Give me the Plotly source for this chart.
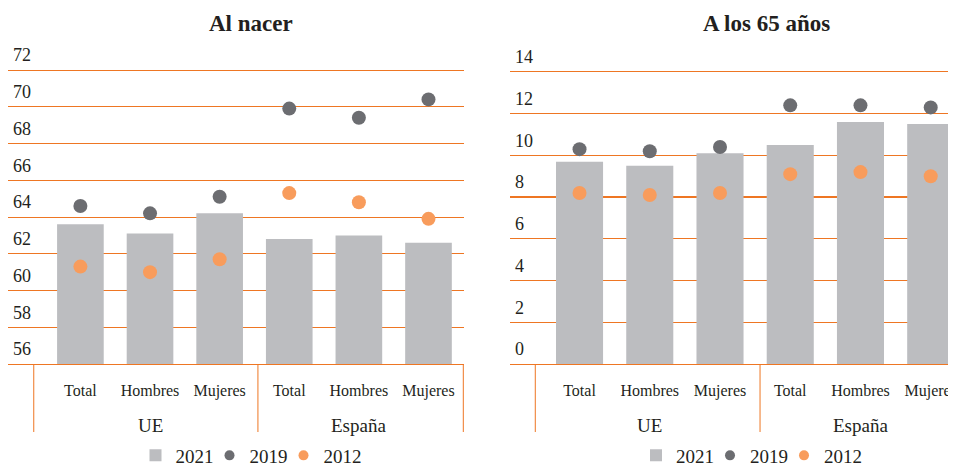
import plotly.graph_objects as go

# ---- data ----
groups = ["UE", "España"]
subcats = ["Total", "Hombres", "Mujeres", "Total", "Hombres", "Mujeres"]
positions = [0, 1, 2, 3, 4, 5]

nacer_2021 = [63.6, 63.1, 64.2, 62.8, 63.0, 62.6]
nacer_2019 = [64.6, 64.2, 65.1, 69.9, 69.4, 70.4]
nacer_2012 = [61.3, 61.0, 61.7, 65.3, 64.8, 63.9]

a65_2021 = [9.7, 9.5, 10.1, 10.5, 11.6, 11.5]
a65_2019 = [10.3, 10.2, 10.4, 12.4, 12.4, 12.3]
a65_2012 = [8.2, 8.1, 8.2, 9.1, 9.2, 9.0]

nacer_ticks = [56, 58, 60, 62, 64, 66, 68, 70, 72]
a65_ticks = [0, 2, 4, 6, 8, 10, 12, 14]
years = ["2021", "2019", "2012"]

# ---- style ----
FONT = "Liberation Serif"
TXT = "#231F20"
BAR = "#BCBDC0"
DARK = "#6C6D71"
ORANGE = "#F89C5C"
LINE = "#EE7623"

W, H = 948, 455          # page body adds an 8 px offset
T, B = 37, 99
PH = H - T - B           # plot-area height in px

def py(fig_y):
    """pixel row in the figure -> paper y"""
    return (H - B - fig_y) / PH

fig = go.Figure()

def add_panel(xa, ya, leg, v21, v19, v12):
    fig.add_trace(go.Bar(x=positions, y=v21, width=0.67, marker=dict(color=BAR, line=dict(width=0)),
                         name=years[0], xaxis=xa, yaxis=ya, legend=leg, hoverinfo="y"))
    fig.add_trace(go.Scatter(x=positions, y=v19, mode="markers", marker=dict(color=DARK, size=14),
                             name=years[1], xaxis=xa, yaxis=ya, showlegend=False, hoverinfo="y"))
    fig.add_trace(go.Scatter(x=positions, y=v12, mode="markers", marker=dict(color=ORANGE, size=14),
                             name=years[2], xaxis=xa, yaxis=ya, showlegend=False, hoverinfo="y"))
    # legend-only entries with the smaller legend dot
    fig.add_trace(go.Scatter(x=[None], y=[None], mode="markers", marker=dict(color=DARK, size=10),
                             name=years[1], xaxis=xa, yaxis=ya, legend=leg))
    fig.add_trace(go.Scatter(x=[None], y=[None], mode="markers", marker=dict(color=ORANGE, size=10),
                             name=years[2], xaxis=xa, yaxis=ya, legend=leg))
    # invisible spacer entry so the last legend label is not clipped by the compact entry width
    fig.add_trace(go.Scatter(x=[None], y=[None], mode="markers", marker=dict(color="white", size=1, opacity=0),
                             name=" ", xaxis=xa, yaxis=ya, legend=leg, hoverinfo="skip"))

add_panel("x", "y", "legend", nacer_2021, nacer_2019, nacer_2012)
add_panel("x2", "y2", "legend2", a65_2021, a65_2019, a65_2012)

xcommon = dict(tickmode="array", tickvals=positions, ticktext=subcats, showgrid=False,
               zeroline=False, showline=True, linecolor=LINE, linewidth=1, ticks="",
               ticklabelstandoff=12, ticklabeloverflow="allow",
               tickfont=dict(family=FONT, size=16, color=TXT), fixedrange=True)
ycommon = dict(tickmode="array", showgrid=True, gridcolor=LINE, gridwidth=1, zeroline=False,
               showline=False, ticks="", ticklabelposition="inside", ticklabelshift=-15,
               ticklabelstandoff=2, tickfont=dict(family=FONT, size=18, color=TXT),
               fixedrange=True)

# px per y-unit of each panel (from the reference)
left_ppu = 18.375
right_ppu = 20.86

legend_common = dict(orientation="h", xanchor="center", yanchor="middle", entrywidth=29,
                     font=dict(family=FONT, size=19, color=TXT), bgcolor="rgba(0,0,0,0)",
                     traceorder="normal", itemclick=False, itemdoubleclick=False)

fig.update_layout(
    width=W, height=H,
    margin=dict(l=0, r=0, t=T, b=B, autoexpand=False),
    paper_bgcolor="white", plot_bgcolor="white",
    showlegend=True,
    xaxis=dict(domain=[0, 456 / W], range=[-1.04, 5.51], anchor="y", **xcommon),
    yaxis=dict(domain=[0, 1], range=[56, 56 + PH / left_ppu], tickvals=nacer_ticks, anchor="x", **ycommon),
    xaxis2=dict(domain=[502 / W, 1.0], range=[-0.99, 5.36], anchor="y2", **xcommon),
    yaxis2=dict(domain=[0, 1], range=[0, PH / right_ppu], tickvals=a65_ticks, anchor="x2", **ycommon),
    legend=dict(x=275.5 / W, y=py(447.5), **legend_common),
    legend2=dict(x=776 / W, y=py(447.5), **legend_common),
)

# titles
fig.add_annotation(text="<b>Al nacer</b>", x=243 / W, y=py(15), xref="paper", yref="paper",
                   xanchor="center", yanchor="middle",
                   showarrow=False, font=dict(family=FONT, size=23, color=TXT))
fig.add_annotation(text="<b>A los 65 años</b>", x=758 / W, y=py(15), xref="paper", yref="paper",
                   xanchor="center", yanchor="middle",
                   showarrow=False, font=dict(family=FONT, size=23, color=TXT))

# group labels (centred on the middle subcategory of each group)
for xr in ["x", "x2"]:
    for gi, g in enumerate(groups):
        fig.add_annotation(text=g, x=positions[gi * 3 + 1], y=py(418), xref=xr, yref="paper",
                           xanchor="center", yanchor="middle",
                           showarrow=False, font=dict(family=FONT, size=19, color=TXT))

# group dividers of the category axis
dividers_left = [-0.67, 2.55, 5.5]
dividers_right = [-0.63, 2.57]
for xr, yr, divs in [("x", "y domain", dividers_left), ("x2", "y2 domain", dividers_right)]:
    for d in divs:
        fig.add_shape(type="line", xref=xr, yref=yr, x0=d, x1=d, y0=0, y1=py(424),
                      line=dict(color=LINE, width=1))

# the heavier gridline at 8 in the right panel
fig.add_shape(type="line", xref="x2 domain", yref="y2", x0=0, x1=1, y0=a65_ticks[4], y1=a65_ticks[4],
              line=dict(color=LINE, width=2), layer="below")

fig.write_html("out.html")
